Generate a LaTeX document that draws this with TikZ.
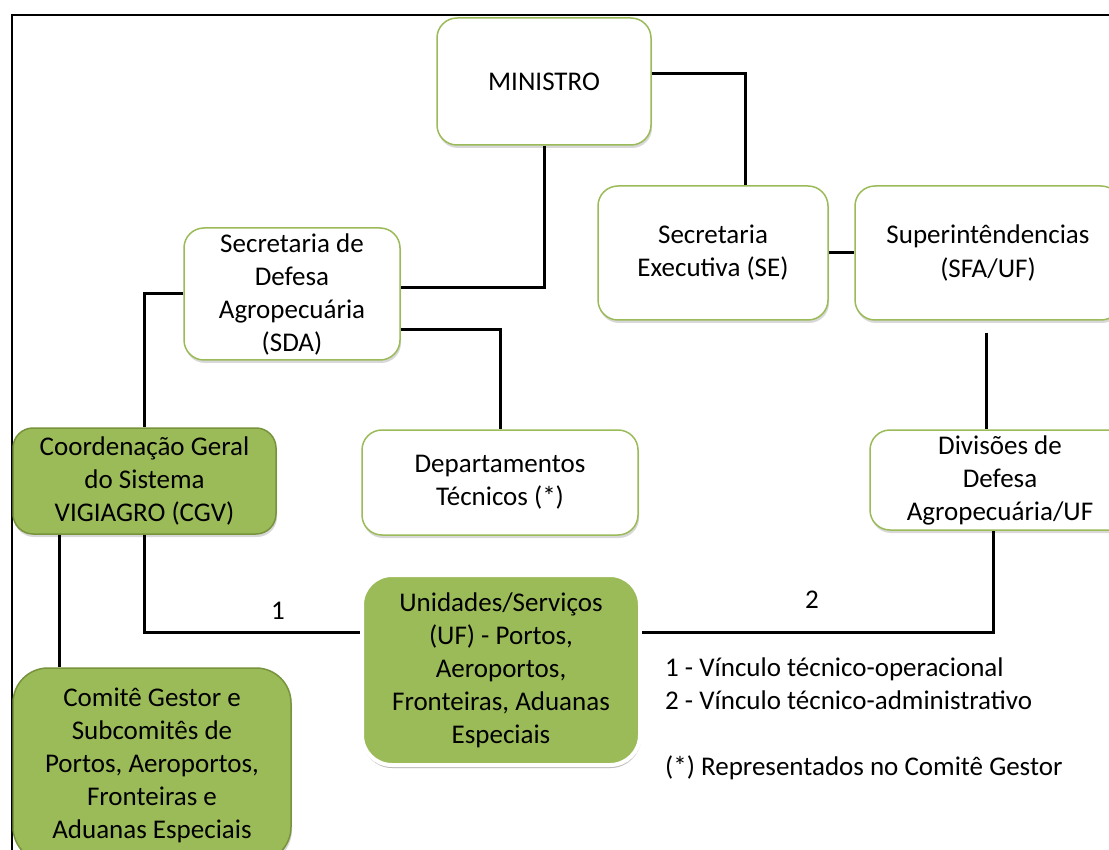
\documentclass[tikz,border=0pt]{standalone}
\usepackage{fontspec}
\setmainfont{Carlito}
\usetikzlibrary{shadows}
\definecolor{ogreen}{HTML}{9BBB59}
\definecolor{dgreen}{HTML}{77933C}
\tikzset{
  box/.style={draw=ogreen, line width=1.5pt, fill=white, rounded corners=20pt,
    inner sep=0pt, align=center, font=\fontsize{27}{33}\selectfont,
    drop shadow={shadow xshift=1pt, shadow yshift=-3pt, fill=black!30, opacity=0.5}},
  gbox/.style={box, draw=dgreen, fill=ogreen},
  wbox/.style={box, draw=white, line width=4pt, fill=ogreen, rounded corners=30pt,
    drop shadow={shadow xshift=0pt, shadow yshift=-3pt, fill=black!35, opacity=0.6}},
  conn/.style={line width=3pt},
  lbl/.style={font=\fontsize{27}{33}\selectfont, inner sep=0pt}
}
\begin{document}
\begin{tikzpicture}[x=1pt,y=-1pt]
\useasboundingbox (0,0) rectangle (1109,850);
\clip (0,0) rectangle (1109,850);
\fill[white] (0,0) rectangle (1109,850);
\draw[line width=2pt] (12,860) -- (12,15) -- (1115,15);

\node[box, minimum width=214pt, minimum height=127pt] (min) at (544,81.5) {\raisebox{-6pt}{MINISTRO}};
\node[box, minimum width=230pt, minimum height=134pt] (se) at (713,253) {Secretaria\\Executiva (SE)};
\node[box, minimum width=266pt, minimum height=134pt] (sfa) at (988,253) {Superintêndencias\\(SFA/UF)};
\node[box, minimum width=216pt, minimum height=132pt] (sda) at (292,294) {Secretaria de\\Defesa\\Agropecuária\\(SDA)};
\node[box, minimum width=276pt, minimum height=105pt] (dep) at (500,482.5) {Departamentos\\Técnicos (*)};
\node[box, minimum width=260pt, minimum height=100pt] (div) at (1000,480) {Divisões de\\Defesa\\Agropecuária/UF};
\node[gbox, minimum width=263pt, minimum height=106pt] (cgv) at (144.5,481) {Coordenação Geral\\do Sistema\\VIGIAGRO (CGV)};
\node[gbox, rounded corners=35pt, minimum width=278pt, minimum height=194pt] (com) at (152,765) {Comitê Gestor e\\Subcomitês de\\Portos, Aeroportos,\\Fronteiras e\\Aduanas Especiais};
\node[wbox, minimum width=278pt, minimum height=190pt] (uni) at (501,670) {Unidades/Serviços\\(UF) - Portos,\\Aeroportos,\\Fronteiras, Aduanas\\Especiais};

\draw[conn] (min.south) |- ([yshift=6pt]sda.east);
\draw[conn] ([yshift=8pt]min.east) -| ([xshift=32pt]se.north);
\draw[conn] (se.east) -- (sfa.west);
\draw[conn] ([yshift=-36pt]sda.east) -| (dep.north);
\draw[conn] (sda.west) -| (cgv.north);
\draw[conn] (cgv.south) |- ([yshift=38pt]uni.west);
\draw[conn] ([xshift=-85pt]cgv.south) -- ([xshift=-85pt]cgv.south |- com.north);
\draw[conn] ([xshift=-2pt,yshift=-12pt]sfa.south) -- ([xshift=-2pt]sfa.south |- div.north);
\draw[conn] ([xshift=-7pt]div.south) |- ([yshift=38pt]uni.east);

\node[lbl] (l1) at (278,611) {1};
\node[lbl] (l2) at (812,600) {2};
\node[lbl, anchor=north west, align=left] (leg) at (665,658) {1 - Vínculo técnico-operacional\\2 - Vínculo técnico-administrativo\\\strut\\(*) Representados no Comitê Gestor};
\end{tikzpicture}
\end{document}
